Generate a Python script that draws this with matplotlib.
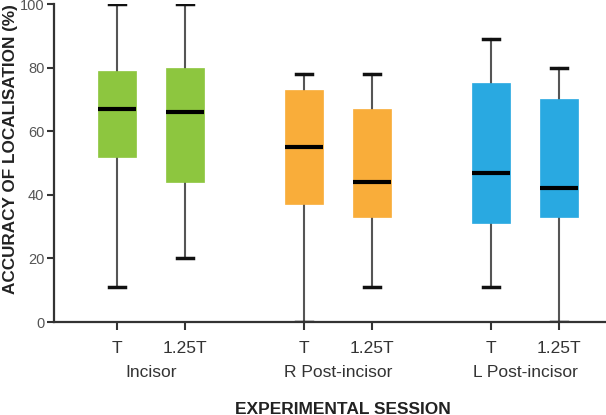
import matplotlib
matplotlib.use("Agg")
import matplotlib.pyplot as plt

# Data
sessions = ["T", "1.25T", "T", "1.25T", "T", "1.25T"]
groups = ["Incisor", "R Post-incisor", "L Post-incisor"]
whislo = [11, 20, 0, 11, 11, 0]
q1 = [52, 44, 37, 33, 31, 33]
med = [67, 66, 55, 44, 47, 42]
q3 = [79, 80, 73, 67, 75, 70]
whishi = [100, 100, 78, 78, 89, 80]
colors = ["#8DC63F", "#8DC63F", "#F9AD3A", "#F9AD3A", "#29A9E1", "#29A9E1"]

positions = [1, 2, 3.75, 4.75, 6.5, 7.5]

plt.rcParams['font.family'] = ['Liberation Sans', 'DejaVu Sans']

fig = plt.figure(figsize=(6.06, 4.15), dpi=100)
ax = fig.add_axes([54/606, 93/415, 1 - 54/606, 318/415])

stats = []
for i in range(len(sessions)):
    stats.append(dict(whislo=whislo[i], q1=q1[i], med=med[i], q3=q3[i], whishi=whishi[i], fliers=[]))

bp = ax.bxp(stats, positions=positions, widths=0.56, patch_artist=True,
            showfliers=False, capwidths=0.24,
            boxprops=dict(linewidth=0.5),
            whiskerprops=dict(color="#555555", linewidth=1.5),
            capprops=dict(color="#111111", linewidth=2.5),
            medianprops=dict(color="#000000", linewidth=3))
for patch, c in zip(bp['boxes'], colors):
    patch.set_facecolor(c)
    patch.set_edgecolor(c)
for w in bp['whiskers']:
    w.set_zorder(1)

ax.set_xlim(0.074, 8.19)
ax.set_ylim(0, 100)
ax.set_yticks([0, 20, 40, 60, 80, 100])
ax.set_xticks(positions)
ax.set_xticklabels(sessions)
for s in ['top', 'right']:
    ax.spines[s].set_visible(False)
for s in ['left', 'bottom']:
    ax.spines[s].set_linewidth(1.6)
    ax.spines[s].set_color("#333333")
ax.tick_params(axis='y', length=5, width=1.5, color="#333333", labelsize=10.5, labelcolor="#555555", pad=2)
ax.tick_params(axis='x', length=6, width=1.5, color="#333333", labelsize=12.5, labelcolor="#333333", pad=8)

group_centers = [(positions[0]+positions[1])/2, (positions[2]+positions[3])/2, (positions[4]+positions[5])/2]
for gc, g in zip(group_centers, groups):
    ax.text(gc, -16, g, ha='center', va='center', fontsize=12.5, color="#333333", clip_on=False)

ax.set_ylabel("ACCURACY OF LOCALISATION (%)", fontsize=12.3, fontweight='bold', color="#222222")
ax.yaxis.set_label_coords(-36/552, 0.545)
fig.text(343/606, 1.5/415, "EXPERIMENTAL SESSION", ha='center', va='baseline', fontsize=12.5,
         fontweight='bold', color="#222222")

fig.savefig("out.png", dpi=100)
